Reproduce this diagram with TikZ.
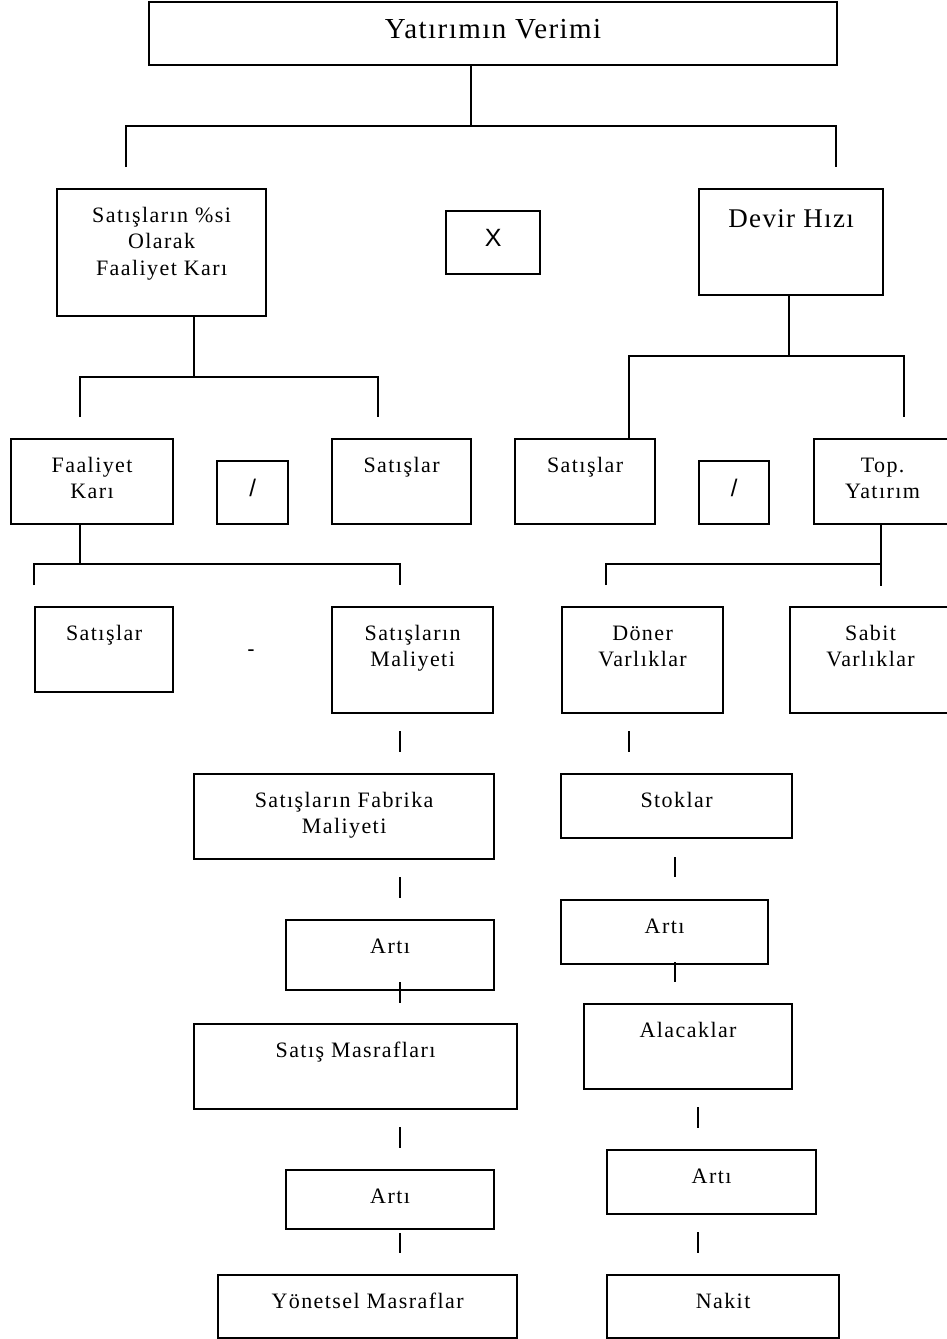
\documentclass[tikz,border=0pt]{standalone}
\usepackage{fontspec}
\setmainfont{Liberation Serif}
\newfontfamily\bfnt[LetterSpace=6.5]{Liberation Serif}
\newfontfamily\tfnt[LetterSpace=5]{Liberation Serif}
\newfontfamily\sfnt{Liberation Sans}
\newcommand{\ml}[1]{\begin{tabular}[t]{@{}c@{}}#1\end{tabular}}
\begin{document}
\begin{tikzpicture}[x=1pt,y=-1pt,line width=2pt,
  box/.style={draw,line width=2.2pt,inner sep=0pt,anchor=north west},
  lbl/.style={anchor=base,yshift=-34pt,inner sep=0pt,font=\bfnt\fontsize{22}{26.5}\selectfont},
  ttl/.style={anchor=base,yshift=-37pt,inner sep=0pt,font=\tfnt\fontsize{29}{34}\selectfont},
  dvl/.style={anchor=base,yshift=-39pt,inner sep=0pt,font=\tfnt\fontsize{27}{32}\selectfont},
  sym/.style={anchor=center,inner sep=0pt,yshift=4.5pt,font=\sfnt\fontsize{25}{30}\selectfont},
  slh/.style={anchor=center,inner sep=0pt,yshift=4.5pt,font=\sfnt\fontsize{24}{28}\selectfont},
  conn/.style={draw,line width=2.2pt}]
\useasboundingbox (0,0) rectangle (946,1339);
% boxes
\node[box,minimum width=688,minimum height=63,label={[ttl]north:Yatırımın Verimi}] (title) at (148,1) {};
\node[box,minimum width=209,minimum height=127,label={[lbl]north:\ml{Satışların \%si\\Olarak\\Faaliyet Karı}}] (A) at (56,188) {};
\node[box,minimum width=94,minimum height=63,label={[sym]center:X}] (Xb) at (445,210) {};
\node[box,minimum width=184,minimum height=106,label={[dvl]north:Devir Hızı}] (Dev) at (698,188) {};
\node[box,minimum width=162,minimum height=85,label={[lbl]north:\ml{Faaliyet\\Karı}}] (FK) at (10,438) {};
\node[box,minimum width=71,minimum height=63,label={[slh]center:/}] (sl1) at (216,460) {};
\node[box,minimum width=139,minimum height=85,label={[lbl]north:Satışlar}] (S1) at (331,438) {};
\node[box,minimum width=140,minimum height=85,label={[lbl]north:Satışlar}] (S2) at (514,438) {};
\node[box,minimum width=70,minimum height=63,label={[slh]center:/}] (sl2) at (698,460) {};
\node[box,minimum width=137,minimum height=85,label={[lbl]north:\ml{Top.\\Yatırım}}] (TY) at (813,438) {};
\node[box,minimum width=138,minimum height=85,label={[lbl]north:Satışlar}] (S3) at (34,606) {};
\node[font=\sfnt\fontsize{22}{26}\selectfont,inner sep=0pt] (minus) at (251,653) {-};
\node[box,minimum width=161,minimum height=106,label={[lbl]north:\ml{Satışların\\Maliyeti}}] (SM) at (331,606) {};
\node[box,minimum width=161,minimum height=106,label={[lbl]north:\ml{Döner\\Varlıklar}}] (DV) at (561,606) {};
\node[box,minimum width=161,minimum height=106,label={[lbl]north:\ml{Sabit\\Varlıklar}}] (SV) at (789,606) {};
\node[box,minimum width=300,minimum height=85,label={[lbl]north:\ml{Satışların Fabrika\\Maliyeti}}] (FM) at (193,773) {};
\node[box,minimum width=208,minimum height=70,label={[lbl]north:Artı}] (A1) at (285,919) {};
\node[box,minimum width=323,minimum height=85,label={[lbl]north:Satış Masrafları}] (SMa) at (193,1023) {};
\node[box,minimum width=208,minimum height=59,label={[lbl]north:Artı}] (A2) at (285,1169) {};
\node[box,minimum width=299,minimum height=63,label={[lbl]north:Yönetsel Masraflar}] (YM) at (217,1274) {};
\node[box,minimum width=231,minimum height=64,label={[lbl]north:Stoklar}] (ST) at (560,773) {};
\node[box,minimum width=207,minimum height=64,label={[lbl]north:Artı}] (A3) at (560,899) {};
\node[box,minimum width=208,minimum height=85,label={[lbl]north:Alacaklar}] (AL) at (583,1003) {};
\node[box,minimum width=209,minimum height=64,label={[lbl]north:Artı}] (A4) at (606,1149) {};
\node[box,minimum width=232,minimum height=63,label={[lbl]north:Nakit}] (NK) at (606,1274) {};
% tree 1
\coordinate (j1) at (471,126);
\coordinate (d1L) at (126,167);
\coordinate (d1R) at (836,167);
\draw[conn] (title.south -| j1) -- (j1);
\draw[conn] (d1L) |- (j1) -| (d1R);
% tree 2
\coordinate (j2) at (194,377);
\coordinate (d2L) at (80,417);
\coordinate (d2R) at (378,417);
\draw[conn] (A.south -| j2) -- (j2);
\draw[conn] (d2L) |- (j2) -| (d2R);
% tree 3
\coordinate (j3) at (789,356);
\coordinate (d3x) at (629,400);
\coordinate (d3R) at (904,417);
\draw[conn] (Dev.south -| j3) -- (j3);
\draw[conn] (S2.north -| d3x) |- (j3) -| (d3R);
% tree 4
\coordinate (j4) at (80,564);
\coordinate (d4L) at (34,585);
\coordinate (d4R) at (400,585);
\draw[conn] (FK.south -| j4) -- (j4);
\draw[conn] (d4L) |- (j4) -| (d4R);
% tree 5
\coordinate (j5) at (881,564);
\coordinate (d5L) at (606,585);
\coordinate (d5R) at (881,586);
\draw[conn] (TY.south -| j5) -- (d5R);
\draw[conn] (d5L) |- (j5);
% ticks
\foreach \n/\x/\a/\b in {1/400/731/752,2/629/731/752,3/400/877/898,4/400/982/1003,5/400/1127/1148,6/400/1233/1253,7/675/857/877,8/675/962/982,9/698/1107/1128,10/698/1232/1253}{
  \coordinate (tk\n a) at (\x,\a);
  \coordinate (tk\n b) at (\x,\b);
  \draw[conn] (tk\n a) -- (tk\n b);
}
\end{tikzpicture}
\end{document}
